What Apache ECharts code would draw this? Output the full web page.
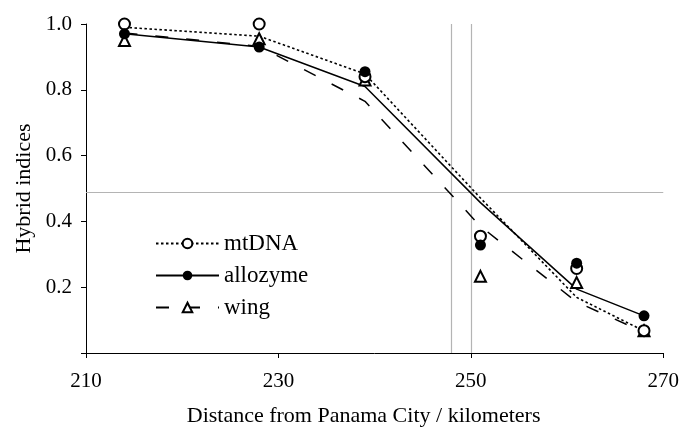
<!DOCTYPE html>
<html>
<head>
<meta charset="utf-8">
<script src="https://cdn.jsdelivr.net/npm/echarts@6/dist/echarts.min.js"></script>
<style>
html,body{margin:0;padding:0;background:#fff;}
#chart{width:682px;height:432px;}
</style>
</head>
<body>
<div id="chart"></div>
<script>
// Distances (km) of sampled sites
var distances = [214, 228, 239, 251, 261, 268];
// Observed hybrid indices (points)
var mtdnaPoints    = [1.0, 1.0, 0.84, 0.355, 0.257, 0.068];
var allozymePoints = [0.97, 0.93, 0.855, 0.328, 0.273, 0.113];
var wingPoints     = [0.95, 0.955, 0.83, 0.233, 0.214, 0.068];
// Fitted clines (lines)
var mtdnaFit    = [0.99, 0.963, 0.848, 0.471, 0.169, 0.067];
var allozymeFit = [0.97, 0.93, 0.81, 0.457, 0.194, 0.113];
var wingFit     = [0.973, 0.932, 0.765, 0.385, 0.155, 0.063];
// Reference lines
var refX = [248, 250];
var refY = [0.495];
var seriesNames = ['mtDNA', 'allozyme', 'wing'];

function pairs(xs, ys) { return xs.map(function (x, i) { return [x, ys[i]]; }); }

var FONT = 'Liberation Serif';
var chart = echarts.init(document.getElementById('chart'), null, {renderer: 'canvas'});

var markData = refX.map(function (v) { return {xAxis: v}; })
  .concat(refY.map(function (v) { return {yAxis: v}; }));

chart.setOption({
  animation: false,
  backgroundColor: '#fff',
  grid: {left: 86, right: 17, top: 24, bottom: 78},
  legend: {
    data: seriesNames,
    orient: 'vertical',
    left: 150,
    top: 227,
    itemWidth: 63,
    itemHeight: 12,
    itemGap: 9,
    textStyle: {fontFamily: FONT, fontSize: 23, color: '#000'},
    selectedMode: false
  },
  xAxis: {
    type: 'value', min: 210, max: 270, interval: 20,
    name: 'Distance from Panama City / kilometers',
    nameLocation: 'middle', nameGap: 52,
    nameTextStyle: {fontFamily: FONT, fontSize: 22, color: '#000', padding: [0, 22, 0, 0]},
    axisLine: {show: true, lineStyle: {color: '#000', width: 1}},
    axisTick: {show: true, inside: false, length: 5, lineStyle: {color: '#000'}},
    axisLabel: {fontFamily: FONT, fontSize: 21, color: '#000', margin: 18},
    splitLine: {show: false}
  },
  yAxis: {
    type: 'value', min: 0, max: 1, interval: 0.2,
    name: 'Hybrid indices',
    nameLocation: 'middle', nameGap: 47,
    nameTextStyle: {fontFamily: FONT, fontSize: 22, color: '#000'},
    axisLine: {show: true, lineStyle: {color: '#000', width: 1}},
    axisTick: {show: true, inside: false, length: 5, lineStyle: {color: '#000'}},
    axisLabel: {fontFamily: FONT, fontSize: 21, color: '#000', margin: 14,
      formatter: function (v) { return v === 0 ? '' : v.toFixed(1); }},
    splitLine: {show: false}
  },
  series: [
    {
      name: 'mtDNA', type: 'line', data: pairs(distances, mtdnaFit),
      showSymbol: false, symbol: 'emptyCircle',
      itemStyle: {color: '#000'},
      lineStyle: {color: '#000', width: 1.6, type: [2.5, 2.5]},
      z: 3,
      markLine: {
        silent: true, symbol: 'none', label: {show: false},
        lineStyle: {color: '#b4b4b4', width: 1.2, type: 'solid'},
        data: markData, z: 1
      }
    },
    {
      name: 'allozyme', type: 'line', data: pairs(distances, allozymeFit),
      showSymbol: false, symbol: 'circle',
      itemStyle: {color: '#000'},
      lineStyle: {color: '#000', width: 1.5, type: 'solid'},
      z: 3
    },
    {
      name: 'wing', type: 'line', data: pairs(distances, wingFit),
      showSymbol: false, symbol: 'emptyTriangle',
      itemStyle: {color: '#000'},
      lineStyle: {color: '#000', width: 1.5, type: [13, 18]},
      z: 3
    },
    {
      name: 'wing points', type: 'scatter', data: pairs(distances, wingPoints),
      symbol: 'emptyTriangle', symbolSize: 11,
      itemStyle: {color: '#000', borderColor: '#000', borderWidth: 1.4, opacity: 1}, z: 4
    },
    {
      name: 'mtDNA points', type: 'scatter', data: pairs(distances, mtdnaPoints),
      symbol: 'emptyCircle', symbolSize: 11,
      itemStyle: {color: '#000', borderColor: '#000', borderWidth: 1.4, opacity: 1}, z: 5
    },
    {
      name: 'allozyme points', type: 'scatter', data: pairs(distances, allozymePoints),
      symbol: 'circle', symbolSize: 11,
      itemStyle: {color: '#000', opacity: 1}, z: 6
    }
  ]
});
</script>
</body>
</html>
